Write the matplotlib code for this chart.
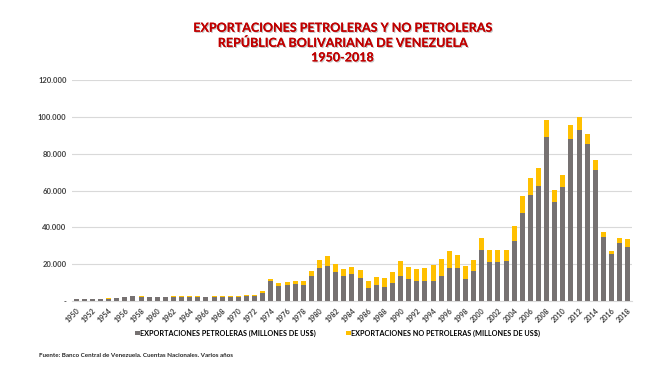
import matplotlib.pyplot as plt
import matplotlib.patheffects as pe
import numpy as np

plt.rcParams['font.family'] = ['Lato', 'DejaVu Sans']

# exportaciones, millones de US$
years = list(range(1950, 2019))
petroleras = [
    1.0, 1.1, 1.2, 1.3, 1.4, 1.6, 2.0, 2.6, 2.4, 2.2,   # 1950-1959
    2.3, 2.3, 2.4, 2.4, 2.4, 2.4, 2.3, 2.5, 2.5, 2.4,   # 1960-1969
    2.4, 2.9, 2.9, 4.4, 10.7, 8.4, 8.7, 9.3, 8.7, 13.6,  # 1970-1979
    18.0, 18.9, 15.6, 13.6, 14.5, 12.5, 6.9, 8.9, 7.8, 9.8,  # 1980-1989
    13.6, 12.0, 10.9, 10.7, 11.1, 13.5, 18.2, 18.0, 12.0, 16.5,  # 1990-1999
    27.7, 21.3, 21.2, 21.7, 32.5, 47.9, 57.7, 62.4, 88.8, 53.9,  # 2000-2009
    62.0, 87.9, 93.1, 85.5, 71.4, 34.9, 25.7, 31.3, 29.5,  # 2010-2018
]
totales = [
    1.1, 1.2, 1.3, 1.4, 1.5, 1.7, 2.1, 2.8, 2.6, 2.4,
    2.5, 2.5, 2.6, 2.6, 2.6, 2.6, 2.5, 2.7, 2.7, 2.6,
    2.6, 3.1, 3.1, 5.3, 12.0, 10.0, 10.4, 10.9, 10.7, 16.4,
    22.4, 24.7, 20.0, 17.3, 18.7, 17.1, 11.1, 12.9, 12.7, 15.6,
    22.0, 18.7, 17.3, 18.0, 19.8, 22.9, 27.3, 25.1, 19.1, 22.4,
    34.5, 27.8, 27.7, 28.0, 40.7, 56.8, 66.9, 72.0, 98.2, 60.4,
    68.4, 95.5, 100.0, 90.8, 76.3, 37.3, 27.1, 34.0, 33.5,
]
petroleras = np.array(petroleras) * 1000
no_petroleras = np.array(totales) * 1000 - petroleras

fig = plt.figure(figsize=(6.56, 3.70), dpi=100)
ax = fig.add_axes([0.11, 0.186, 0.853, 0.598])

x = np.arange(len(years))
ax.bar(x, petroleras, width=0.62, color='#767171', zorder=3,
       label='EXPORTACIONES PETROLERAS (MILLONES DE US$)')
ax.bar(x, no_petroleras, width=0.62, bottom=petroleras, color='#FFC000', zorder=3,
       label='EXPORTACIONES NO PETROLERAS (MILLONES DE US$)')

ax.set_xlim(-0.5, len(years) - 0.5)
ax.set_ylim(0, 120000)
yt = np.arange(0, 120001, 20000)
ax.set_yticks(yt)
ax.set_yticklabels(['-'] + ['{:,}'.format(v).replace(',', '.') for v in yt[1:]],
                   fontsize=5.5, fontweight='bold', color='#404040')
ax.set_xticks(x[::2])
ax.set_xticklabels([str(y) for y in years[::2]], rotation=45, ha='right',
                   rotation_mode='anchor', fontsize=5.2, fontweight='bold', color='#404040')
ax.tick_params(length=0, pad=4)
ax.grid(axis='y', color='#D9D9D9', linewidth=0.8, zorder=0)
for s in ['top', 'right', 'left']:
    ax.spines[s].set_visible(False)
ax.spines['bottom'].set_color('#D9D9D9')

fig.legend(loc='center', bbox_to_anchor=(0.515, 0.1), ncol=2, frameon=False,
           handlelength=0.6, handleheight=0.6, handletextpad=0.1,
           columnspacing=4.2, prop={'weight': 'bold', 'size': 5.2})

title = fig.text(0.522, 0.885,
                 'EXPORTACIONES PETROLERAS Y NO PETROLERAS\nREPÚBLICA BOLIVARIANA DE VENEZUELA\n1950-2018',
                 ha='center', va='center', fontsize=9, fontweight='bold', color='#C00000',
                 linespacing=1.25)
title.set_path_effects([pe.withSimplePatchShadow(offset=(0.8, -0.8), shadow_rgbFace='#999999', alpha=0.6),
                        pe.Normal()])

fig.text(0.06, 0.035, 'Fuente: Banco Central de Venezuela. Cuentas Nacionales. Varios años',
         fontsize=4.5, fontweight='bold', color='#262626')

fig.savefig('out.png', dpi=100, facecolor='white')
